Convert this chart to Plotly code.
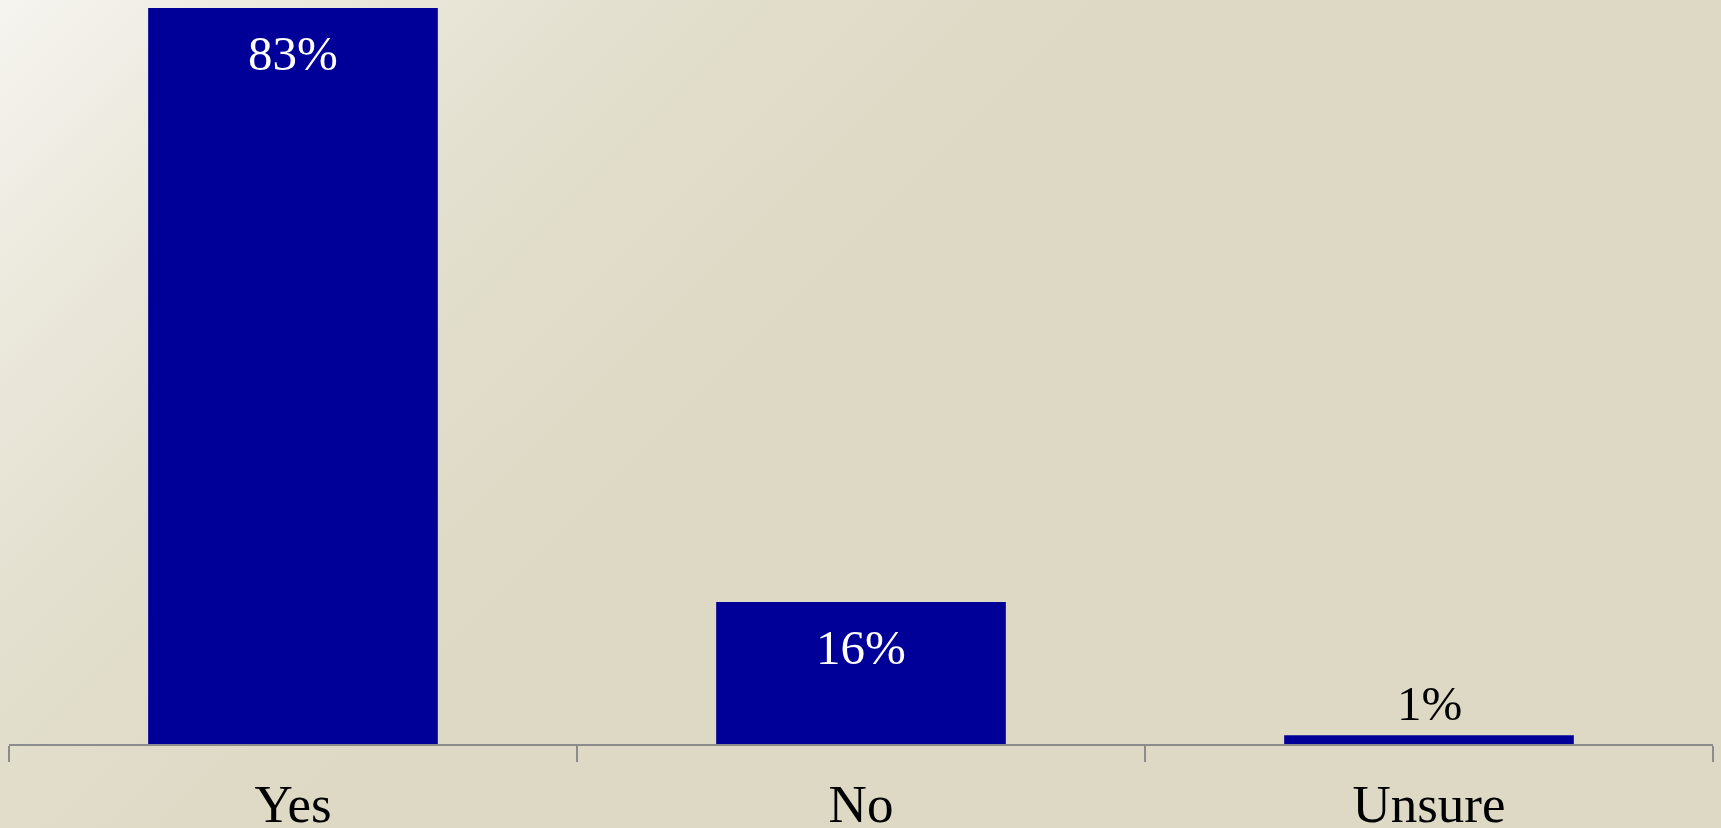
"""Survey answer share bar chart."""

import base64

import plotly.graph_objects as go

answers = ["Yes", "No", "Unsure"]
shares = [83, 16, 1]
share_labels = ["83%", "16%", "1%"]

BAR_COLOR = "#000099"
FONT = "Liberation Serif, Times New Roman, serif"

W, H = 1721, 828
M = dict(l=9, r=8, t=8, b=84)
plot_w = W - M["l"] - M["r"]
plot_h = H - M["t"] - M["b"]

# soft diagonal gradient behind everything
svg = f"""<svg xmlns='http://www.w3.org/2000/svg' width='{W}' height='{H}'>
<defs><linearGradient id='g' gradientUnits='userSpaceOnUse' x1='0' y1='0' x2='550' y2='550'>
<stop offset='0' stop-color='#f5f4ef'/>
<stop offset='0.3' stop-color='#ebe8dc'/>
<stop offset='0.6' stop-color='#e3dfce'/>
<stop offset='1' stop-color='#ded9c4'/>
</linearGradient></defs>
<rect width='{W}' height='{H}' fill='url(#g)'/></svg>"""
bg_src = "data:image/svg+xml;base64," + base64.b64encode(svg.encode()).decode()

fig = go.Figure(
    go.Bar(
        x=answers,
        y=shares,
        marker=dict(color=BAR_COLOR, line=dict(width=0)),
        hoverinfo="skip",
    )
)

# labels: inside (white) for tall bars, above (black) for tiny ones
for name, val, lab in zip(answers, shares, share_labels):
    inside = val > 5
    fig.add_annotation(
        x=name,
        y=val,
        text=lab,
        showarrow=False,
        yanchor="middle",
        yshift=-45 if inside else 32,
        font=dict(family=FONT, size=49, color="white" if inside else "black"),
    )

fig.update_layout(
    width=W,
    height=H,
    margin=M,
    bargap=0.49,
    showlegend=False,
    paper_bgcolor="#dfdac5",
    plot_bgcolor="rgba(0,0,0,0)",
    font=dict(family=FONT, color="black"),
    images=[
        dict(
            source=bg_src,
            xref="paper",
            yref="paper",
            x=-M["l"] / plot_w,
            y=1 + M["t"] / plot_h,
            sizex=W / plot_w,
            sizey=H / plot_h,
            xanchor="left",
            yanchor="top",
            sizing="stretch",
            layer="below",
        )
    ],
    xaxis=dict(
        automargin=False,
        showline=True,
        linecolor="#8c8c8c",
        linewidth=1.5,
        ticks="outside",
        tickson="boundaries",
        ticklen=16,
        tickwidth=1.5,
        tickcolor="#8c8c8c",
        ticklabelstandoff=13,
        tickfont=dict(family=FONT, size=53, color="black"),
        showgrid=False,
        zeroline=False,
    ),
    yaxis=dict(visible=False, automargin=False, range=[0, max(shares)], fixedrange=True),
)

# drop the default page margin so the figure sits flush in the window
fig.write_html(
    "out.html",
    config={"displayModeBar": False},
    post_script="document.body.style.margin='0';document.body.style.overflow='hidden';",
)
